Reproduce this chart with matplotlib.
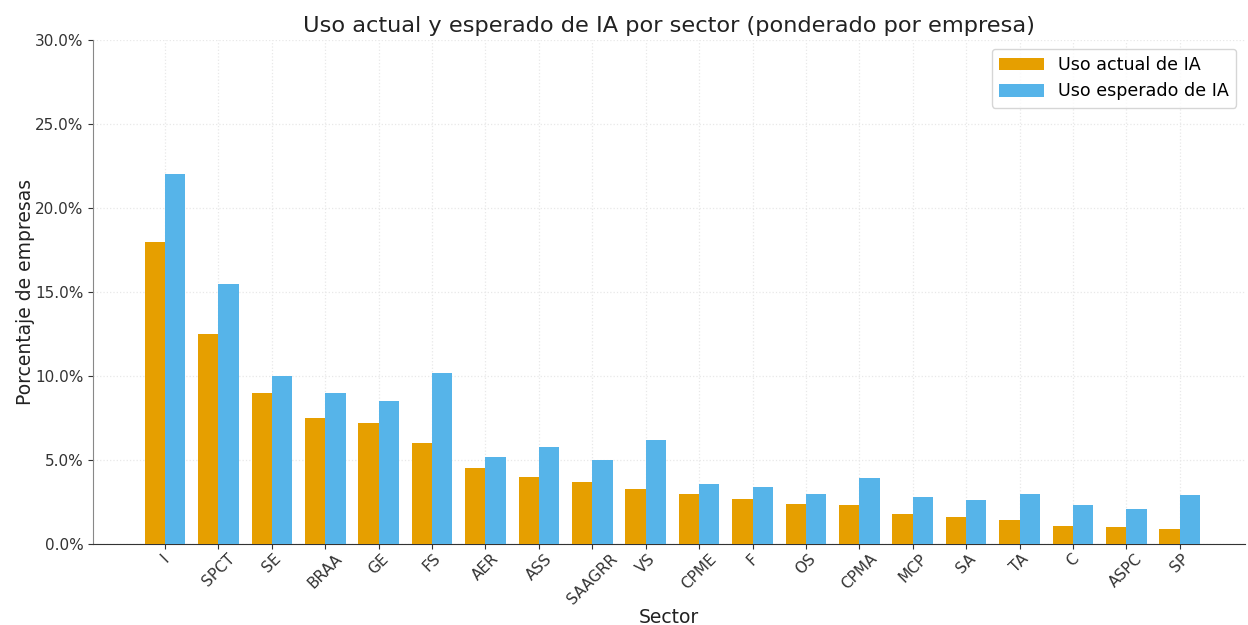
import numpy as np
import matplotlib
matplotlib.use('Agg')
import matplotlib.pyplot as plt
from matplotlib.ticker import PercentFormatter

# sectors (abbreviated) and share of firms (%)
sectores = ['I', 'SPCT', 'SE', 'BRAA', 'GE', 'FS', 'AER', 'ASS', 'SAAGRR', 'VS',
            'CPME', 'F', 'OS', 'CPMA', 'MCP', 'SA', 'TA', 'C', 'ASPC', 'SP']
uso_actual = [18.0, 12.5, 9.0, 7.5, 7.2, 6.0, 4.5, 4.0, 3.7, 3.3,
              3.0, 2.7, 2.4, 2.3, 1.8, 1.6, 1.4, 1.1, 1.0, 0.9]
uso_esperado = [22.0, 15.5, 10.0, 9.0, 8.5, 10.2, 5.2, 5.8, 5.0, 6.2,
                3.6, 3.4, 3.0, 3.9, 2.8, 2.6, 3.0, 2.3, 2.1, 2.9]

x = np.arange(len(sectores))
w = 0.38

fig = plt.figure(figsize=(12.48, 6.25), dpi=100)
ax = fig.add_axes([0.0745, 0.1296, 0.923, 0.8064])

ax.bar(x - w/2, uso_actual, w, color='#E69F00', label='Uso actual de IA', zorder=3)
ax.bar(x + w/2, uso_esperado, w, color='#56B4E9', label='Uso esperado de IA', zorder=3)

ax.set_xlim(-1.35, 20.22)
ax.set_ylim(0, 30)
ax.set_yticks(np.arange(0, 31, 5))
ax.yaxis.set_major_formatter(PercentFormatter(decimals=1))
ax.set_xticks(x)
ax.set_xticklabels(sectores, rotation=45, ha='center')

ax.tick_params(axis='both', labelsize=11, colors='#333333', length=3.5)
ax.tick_params(axis='x', pad=1.5)
ax.grid(True, color='#e8e8e8', linestyle=':', linewidth=0.9, zorder=0)
for s in ['top', 'right']:
    ax.spines[s].set_visible(False)
ax.spines['left'].set_color('#888888')
ax.spines['bottom'].set_color('#333333')

ax.set_title('Uso actual y esperado de IA por sector (ponderado por empresa)', fontsize=16.2, color='#222222')
ax.set_xlabel('Sector', fontsize=13.5, color='#222222')
ax.set_ylabel('Porcentaje de empresas', fontsize=13.5, color='#222222')
ax.xaxis.set_label_coords(0.5, -0.127)
ax.yaxis.set_label_coords(-0.05, 0.5)
ax.legend(fontsize=12.6, loc='upper right', handlelength=2.6)

fig.savefig('out.png', dpi=100)
